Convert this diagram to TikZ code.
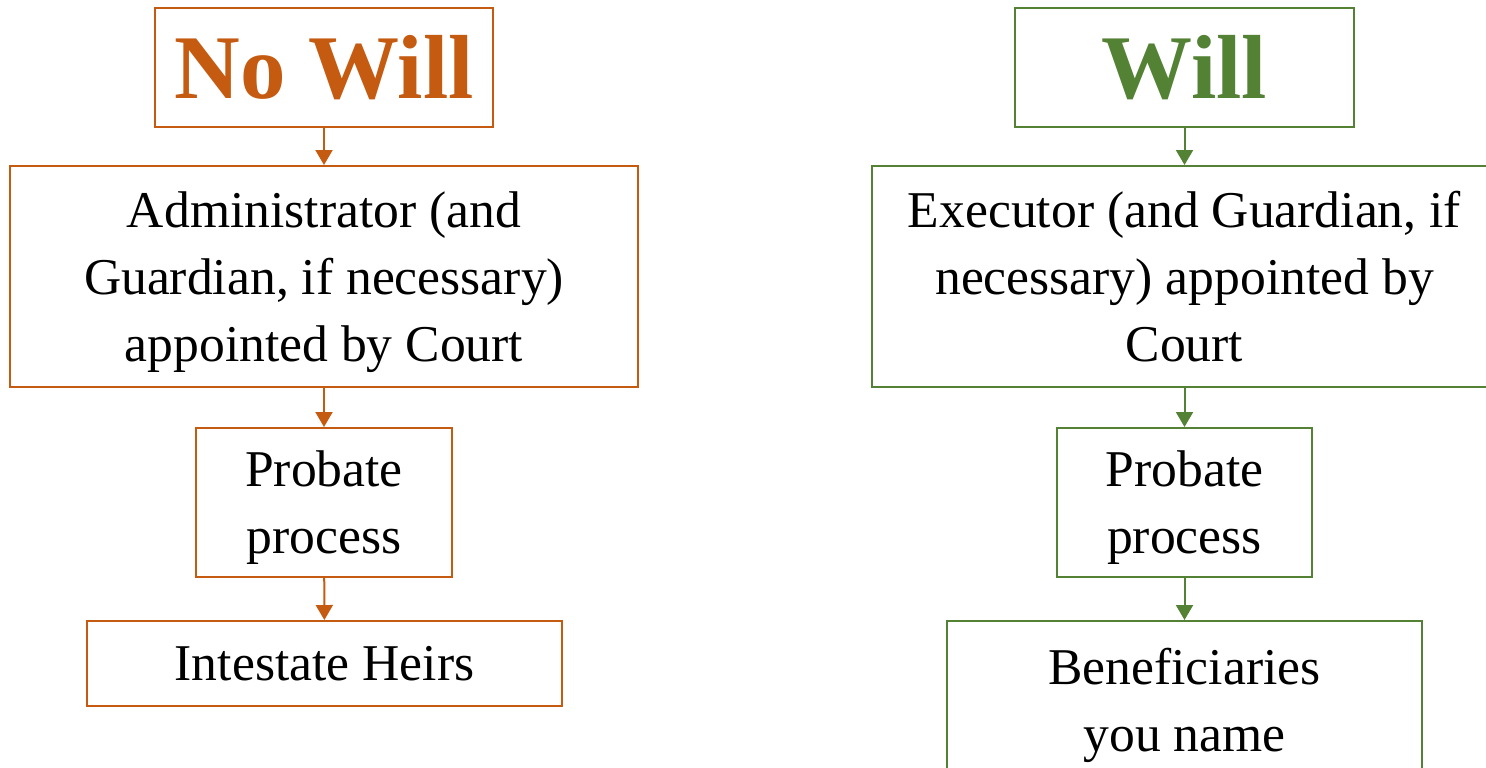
\documentclass[tikz,border=0pt]{standalone}
\usepackage{fontspec}
\setmainfont{Liberation Serif}
\usetikzlibrary{arrows.meta}
\definecolor{nowillcol}{HTML}{C55A11}
\definecolor{willcol}{HTML}{548235}

\begin{document}
\begin{tikzpicture}[x=0.5pt, y=-0.5pt,
	box/.style={draw=#1, line width=1pt, inner sep=0pt, align=center, text=black,
		text depth=0pt, font=\fontsize{25.8}{33.5}\selectfont},
	titlebox/.style={draw=#1, text=#1, line width=1pt, inner sep=0pt,
		font=\fontsize{45.5}{50}\selectfont\bfseries},
	flow/.style={line width=1pt, color=#1, -{Triangle[length=7.5pt,width=8.5pt]}}]
			%%%%% START %%%%%
			
			\clip (0, 0) rectangle (1486, 767);
			
			% no will
			\node[titlebox=nowillcol, minimum width=169pt, minimum height=59.5pt] (nowill) at (324, 67.5) {No Will};
			\node[box=nowillcol, minimum width=314pt, minimum height=110.5pt] (admin) at (324, 276.5) {Administrator (and\\Guardian, if necessary)\\appointed by Court};
			\node[box=nowillcol, minimum width=128pt, minimum height=74.5pt] (probleft) at (324, 502.5) {Probate\\process};
			\node[box=nowillcol, minimum width=237.5pt, minimum height=42.5pt] (heirs) at (324.5, 663.5) {Intestate Heirs};
			
			\draw[flow=nowillcol] (nowill) -- (admin);
			\draw[flow=nowillcol] (admin) -- (probleft);
			\draw[flow=nowillcol] (probleft) -- (heirs);
			
			% will
			\node[titlebox=willcol, minimum width=169.5pt, minimum height=59.5pt] (will) at (1184.5, 67.5) {Will};
			\node[box=willcol, minimum width=313pt, minimum height=110.5pt] (executor) at (1184.5, 276.5) {Executor (and Guardian, if\\necessary) appointed by\\Court};
			\node[box=willcol, minimum width=127.5pt, minimum height=74.5pt] (probright) at (1184.5, 502.5) {Probate\\process};
			\node[box=willcol, minimum width=237.5pt, minimum height=79pt] (benef) at (1184.5, 700) {Beneficiaries\\you name};
			
			\draw[flow=willcol] (will) -- (executor);
			\draw[flow=willcol] (executor) -- (probright);
			\draw[flow=willcol] (probright) -- (benef);
			
			%%%%% END %%%%%
\end{tikzpicture}
\end{document}
